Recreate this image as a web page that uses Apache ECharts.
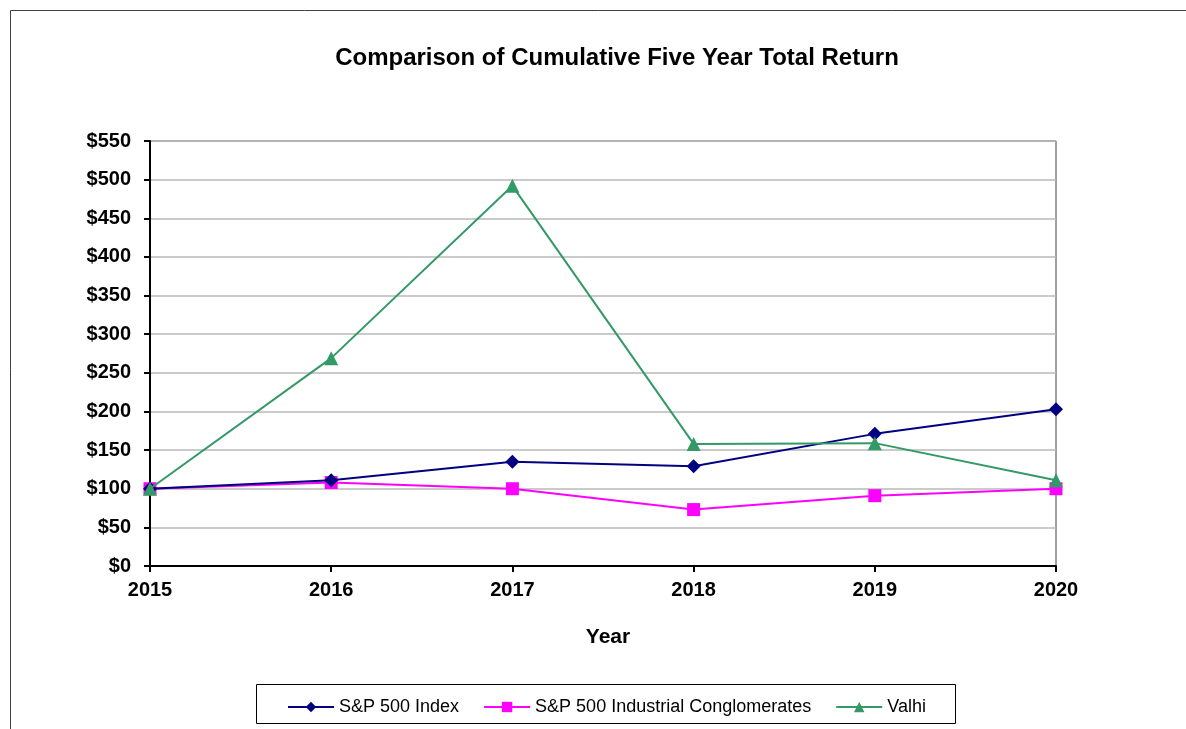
<!DOCTYPE html>
<html>
<head>
<meta charset="utf-8">
<script src="https://cdn.jsdelivr.net/npm/echarts@6/dist/echarts.min.js"></script>
<style>
  html, body { margin: 0; padding: 0; background: #fff; }
  #chart { width: 1186px; height: 729px; }
</style>
</head>
<body>
<div id="chart"></div>
<script>
const years = ['2015', '2016', '2017', '2018', '2019', '2020'];
const sp500 = [100, 111, 135, 129, 171, 203];
const conglomerates = [100, 108, 100, 73, 91, 100];
const valhi = [100, 269, 492, 158, 159, 111];

const chart = echarts.init(document.getElementById('chart'));

const fontFamily = 'Liberation Sans, Arial, sans-serif';

const option = {
  backgroundColor: '#fff',
  animation: false,
  title: {
    text: 'Comparison of Cumulative Five Year Total Return',
    left: 612,
    textAlign: 'center',
    top: 41,
    textStyle: { fontFamily, fontWeight: 'bold', fontSize: 24, color: '#000' }
  },
  grid: {
    left: 150,
    right: 130,
    top: 141,
    bottom: 163,
    show: true,
    borderColor: '#404040',
    borderWidth: 1
  },
  legend: {
    left: 282,
    top: 693,
    itemWidth: 46,
    itemHeight: 13,
    itemGap: 24,
    textStyle: { fontFamily, fontSize: 18, color: '#000' },
    data: ['S&P 500 Index', 'S&P 500 Industrial Conglomerates', 'Valhi']
  },
  xAxis: {
    type: 'category',
    data: years,
    boundaryGap: false,
    name: 'Year',
    nameLocation: 'middle',
    nameGap: 61,
    nameTextStyle: { fontFamily, fontWeight: 'bold', fontSize: 21, color: '#000', padding: [0, 0, 0, 10] },
    axisLine: { lineStyle: { color: '#000', width: 2 } },
    axisTick: { show: true, length: 6, lineStyle: { color: '#000', width: 2 } },
    axisLabel: { fontFamily, fontWeight: 'bold', fontSize: 20, color: '#000', margin: 14 },
    splitLine: { show: false }
  },
  yAxis: {
    type: 'value',
    min: 0,
    max: 550,
    interval: 50,
    axisLine: { show: true, lineStyle: { color: '#000', width: 2 } },
    axisTick: { show: true, length: 6, lineStyle: { color: '#000', width: 2 } },
    axisLabel: {
      fontFamily, fontWeight: 'bold', fontSize: 20, color: '#000', margin: 19,
      formatter: '${value}'
    },
    splitLine: { lineStyle: { color: '#b8b8b8', width: 1.5 } }
  },
  series: [
    {
      name: 'S&P 500 Index',
      type: 'line',
      data: sp500,
      symbol: 'diamond',
      symbolSize: 14,
      itemStyle: { color: '#000080' },
      lineStyle: { color: '#000080', width: 2 },
      z: 3
    },
    {
      name: 'S&P 500 Industrial Conglomerates',
      type: 'line',
      data: conglomerates,
      symbol: 'rect',
      symbolSize: 13,
      itemStyle: { color: '#ff00ff' },
      lineStyle: { color: '#ff00ff', width: 2 },
      z: 2
    },
    {
      name: 'Valhi',
      type: 'line',
      data: valhi,
      symbol: 'triangle',
      symbolSize: 14,
      itemStyle: { color: '#339966' },
      lineStyle: { color: '#339966', width: 2 },
      z: 4
    }
  ],
  graphic: [
    {
      type: 'polyline',
      shape: { points: [[10.5, 729], [10.5, 10.5], [1186, 10.5]] },
      style: { stroke: '#404040', lineWidth: 1, fill: null },
      silent: true
    },
    {
      type: 'rect',
      shape: { x: 256.5, y: 684.5, width: 699, height: 39 },
      style: { stroke: '#000', lineWidth: 1, fill: null },
      silent: true
    }
  ]
};

chart.setOption(option);
</script>
</body>
</html>
